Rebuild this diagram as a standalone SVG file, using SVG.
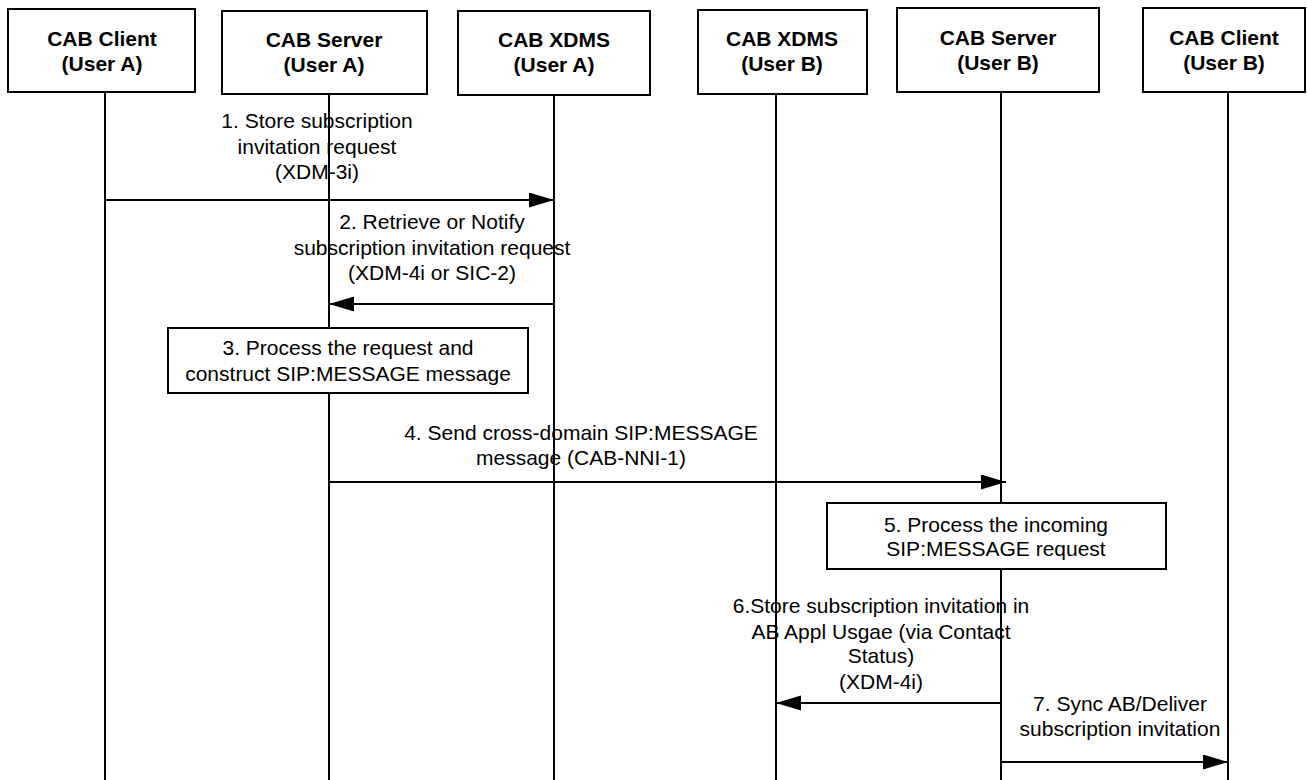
<svg xmlns="http://www.w3.org/2000/svg" width="1307" height="780" viewBox="0 0 1307 780">
<defs>
<style>
.box{fill:#fff;stroke:#000;stroke-width:2}
.life{stroke:#000;stroke-width:2;fill:none}
.msg{stroke:#000;stroke-width:2;fill:none;marker-end:url(#ah)}
.hdr{font-family:"Liberation Sans",Arial,sans-serif;font-size:21px;font-weight:bold;text-anchor:middle;fill:#000}
.lbl{font-family:"Liberation Sans",Arial,sans-serif;font-size:21px;text-anchor:middle;fill:#000}
</style>
<marker id="ah" markerUnits="userSpaceOnUse" markerWidth="26" markerHeight="16" refX="25" refY="7.5" orient="auto">
<path d="M0,0 L25,7.5 L0,15 z" fill="#000"/>
</marker>
</defs>
<rect width="1307" height="780" fill="#fff"/>
<g id="connectors">
<text class="lbl" x="317" y="128">1. Store subscription</text>
<text class="lbl" x="317" y="154">invitation request</text>
<text class="lbl" x="317" y="179">(XDM-3i)</text>
<line class="msg" x1="105" y1="200" x2="554" y2="200"/>
<text class="lbl" x="432" y="229">2. Retrieve or Notify</text>
<text class="lbl" x="432" y="255">subscription invitation request</text>
<text class="lbl" x="432" y="280">(XDM-4i or SIC-2)</text>
<line class="msg" x1="554" y1="304" x2="329" y2="304"/>
<text class="lbl" x="581" y="440">4. Send cross-domain SIP:MESSAGE</text>
<text class="lbl" x="581" y="465">message (CAB-NNI-1)</text>
<line class="msg" x1="329" y1="482" x2="1006" y2="482"/>
<text class="lbl" x="881" y="613">6.Store subscription invitation in</text>
<text class="lbl" x="881" y="639">AB Appl Usgae (via Contact</text>
<text class="lbl" x="881" y="663">Status)</text>
<text class="lbl" x="881" y="689">(XDM-4i)</text>
<line class="msg" x1="1001" y1="703" x2="776" y2="703"/>
<text class="lbl" x="1120" y="711">7. Sync AB/Deliver</text>
<text class="lbl" x="1120" y="736">subscription invitation</text>
<line class="msg" x1="1001" y1="762" x2="1228" y2="762"/>
</g>
<g id="client-a">
<line class="life" x1="105" y1="92" x2="105" y2="780"/>
<rect class="box" x="8" y="9" width="187" height="83"/>
<text class="hdr" x="102" y="46">CAB Client</text>
<text class="hdr" x="102" y="71">(User A)</text>
</g>
<g id="server-a">
<line class="life" x1="329" y1="94" x2="329" y2="780"/>
<rect class="box" x="222" y="11" width="205" height="83"/>
<text class="hdr" x="324" y="47">CAB Server</text>
<text class="hdr" x="324" y="72">(User A)</text>
</g>
<g id="xdms-a">
<line class="life" x1="554" y1="95" x2="554" y2="780"/>
<rect class="box" x="458" y="11" width="192" height="84"/>
<text class="hdr" x="554" y="47">CAB XDMS</text>
<text class="hdr" x="554" y="72">(User A)</text>
</g>
<g id="xdms-b">
<line class="life" x1="776" y1="94" x2="776" y2="780"/>
<rect class="box" x="698" y="10" width="169" height="84"/>
<text class="hdr" x="782" y="46">CAB XDMS</text>
<text class="hdr" x="782" y="71">(User B)</text>
</g>
<g id="server-b">
<line class="life" x1="1001" y1="92" x2="1001" y2="780"/>
<rect class="box" x="897" y="8" width="202" height="84"/>
<text class="hdr" x="998" y="45">CAB Server</text>
<text class="hdr" x="998" y="70">(User B)</text>
</g>
<g id="client-b">
<line class="life" x1="1228" y1="92" x2="1228" y2="780"/>
<rect class="box" x="1143" y="8" width="162" height="84"/>
<text class="hdr" x="1224" y="45">CAB Client</text>
<text class="hdr" x="1224" y="70">(User B)</text>
</g>
<g id="process-3">
<rect class="box" x="168" y="328" width="360" height="65"/>
<text class="lbl" x="348" y="355">3. Process the request and</text>
<text class="lbl" x="348" y="381">construct SIP:MESSAGE message</text>
</g>
<g id="process-5">
<rect class="box" x="827" y="503" width="339" height="66"/>
<text class="lbl" x="996" y="532">5. Process the incoming</text>
<text class="lbl" x="996" y="556">SIP:MESSAGE request</text>
</g>
</svg>
